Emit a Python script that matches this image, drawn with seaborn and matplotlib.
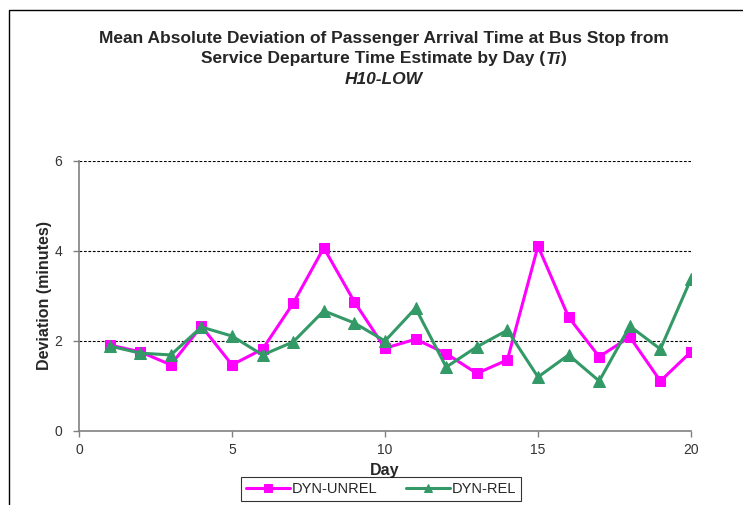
import matplotlib
matplotlib.use("Agg")
import matplotlib.pyplot as plt
from matplotlib.patches import Rectangle
import seaborn as sns
import pandas as pd

days = list(range(1, 21))
dyn_unrel = [1.91, 1.76, 1.47, 2.33, 1.47, 1.82, 2.84, 4.07, 2.87, 1.84,
             2.04, 1.72, 1.28, 1.58, 4.11, 2.53, 1.65, 2.09, 1.11, 1.76]
dyn_rel = [1.89, 1.73, 1.69, 2.31, 2.11, 1.69, 1.98, 2.67, 2.40, 2.00,
           2.73, 1.42, 1.87, 2.24, 1.20, 1.69, 1.11, 2.33, 1.82, 3.38]
series_names = ["DYN-UNREL", "DYN-REL"]
x_ticks = [0, 5, 10, 15, 20]
y_ticks = [0, 2, 4, 6]

df = pd.DataFrame({
    "Day": days * 2,
    "Deviation": dyn_unrel + dyn_rel,
    "Series": [series_names[0]] * len(days) + [series_names[1]] * len(days),
})

sns.set_theme(style="white")
plt.rcParams["font.family"] = ["Liberation Sans", "DejaVu Sans"]

W, H = 743, 505
fig = plt.figure(figsize=(W / 100, H / 100), dpi=100)
fig.patch.set_facecolor("white")
# chart-area frame
fig.patches.append(Rectangle((9 / W, -0.05), 1.2, 1 - 10 / H + 0.05,
                             transform=fig.transFigure, fill=False,
                             edgecolor="black", linewidth=1.0))

ax = fig.add_axes([79 / W, 1 - 431 / H, (691 - 79) / W, (431 - 161) / H])

palette = {"DYN-UNREL": "#FF00FF", "DYN-REL": "#339966"}
markers = {"DYN-UNREL": "s", "DYN-REL": "^"}

for name in series_names:
    sub = df[df["Series"] == name]
    sns.lineplot(data=sub, x="Day", y="Deviation", ax=ax, color=palette[name],
                 marker=markers[name], markersize=7.5 if name == "DYN-UNREL" else 8,
                 markeredgecolor=palette[name], linewidth=2.2, label=name,
                 legend=False)

ax.set_xlim(0, 20)
ax.set_ylim(0, 6)
ax.set_xticks(x_ticks)
ax.set_yticks(y_ticks)
ax.set_xticklabels([str(t) for t in x_ticks], fontsize=10, color="#333333")
ax.set_yticklabels([str(t) for t in y_ticks], fontsize=10, color="#333333")

for y in y_ticks[1:]:
    ax.axhline(y, color="black", linestyle=(0, (2.5, 1.5)), linewidth=0.8, zorder=0)

for side in ["top", "right"]:
    ax.spines[side].set_visible(False)
for side in ["left", "bottom"]:
    ax.spines[side].set_color("#808080")
    ax.spines[side].set_linewidth(1.2)
ax.tick_params(axis="both", direction="out", length=4, width=1, color="#808080",
               left=True, bottom=True)
ax.tick_params(axis="x", pad=5)
ax.tick_params(axis="y", pad=8)

ax.set_xlabel("Day", fontsize=11.5, fontweight="bold", labelpad=4)
ax.set_ylabel("Deviation (minutes)", fontsize=11.5, fontweight="bold", labelpad=1.5)

# title block
title_kw = dict(fontsize=12.5, fontweight="bold", va="center")
cx = 384 / W
fig.text(cx, 1 - 38 / H, "Mean Absolute Deviation of Passenger Arrival Time at Bus Stop from",
         ha="center", **title_kw)

# second line with italic "Ti"
renderer = fig.canvas.get_renderer()
parts = [("Service Departure Time Estimate by Day (", "normal"),
         ("Ti", "italic"), (")", "normal")]
pieces = []
for txt, st in parts:
    t = fig.text(0, 1 - 59 / H, txt, ha="left", style=st, **title_kw)
    pieces.append(t)
widths = [p.get_window_extent(renderer).width for p in pieces]
x = cx * W - sum(widths) / 2
for p, w in zip(pieces, widths):
    p.set_x(x / W)
    x += w

fig.text(cx, 1 - 79 / H, "H10-LOW", ha="center", style="italic", **title_kw)

handles, labels = ax.get_legend_handles_labels()
leg = fig.legend(handles, labels, loc="center", bbox_to_anchor=(381 / W, 1 - 489 / H),
                 ncol=2, frameon=True, fancybox=False, fontsize=10.5,
                 handlelength=3.0, columnspacing=2.0, handletextpad=0.1,
                 borderpad=0.35, borderaxespad=0, markerscale=0.8)
leg.get_frame().set_edgecolor("black")
leg.get_frame().set_linewidth(0.8)

fig.savefig("out.png", dpi=100)
